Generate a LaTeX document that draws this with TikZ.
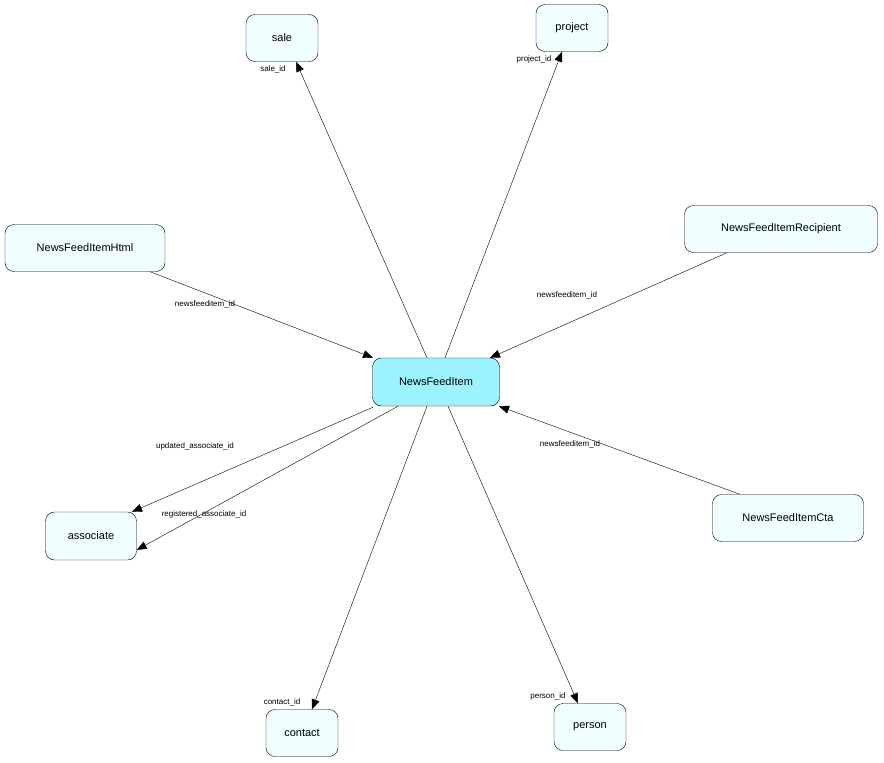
\documentclass[tikz,border=0pt]{standalone}
\usepackage{fontspec}
\setmainfont{Liberation Sans}
\usetikzlibrary{arrows.meta}
\definecolor{boxc}{HTML}{F0FEFF}
\definecolor{mainc}{HTML}{9CF2FF}
\begin{document}
\begin{tikzpicture}[x=1pt,y=-1pt,
  box/.style={draw=black,fill=boxc,rounded corners=9pt,font=\fontsize{11}{13}\selectfont,inner sep=0pt,minimum height=47pt},
  edge/.style={draw=black,-{Triangle[length=10pt,width=8pt]}},
  lab/.style={font=\fontsize{8}{10}\selectfont,inner sep=1pt}]
\useasboundingbox (0,0) rectangle (884,763);
\node[box,minimum width=72pt] (sale) at (282,38) {sale};
\node[box,minimum width=72pt] (project) at (572,28) {project};
\node[box,minimum width=160pt] (html) at (85,248) {NewsFeedItemHtml};
\node[box,minimum width=193pt] (rec) at (781,229) {NewsFeedItemRecipient};
\node[box,minimum width=127pt,minimum height=48pt,fill=mainc] (nfi) at (436,382) {NewsFeedItem};
\node[box,minimum width=91pt,minimum height=48pt] (assoc) at (91,536) {associate};
\node[box,minimum width=151pt] (cta) at (788,518) {NewsFeedItemCta};
\node[box,minimum width=72pt] (contact) at (302,733) {contact};
\node[box,minimum width=72pt] (person) at (590,727) {person};

\draw[edge] ([xshift=-9pt]nfi.north) -- ([xshift=14pt]sale.south);
\draw[edge] ([xshift=9pt]nfi.north) -- ([xshift=-10pt]project.south);
\draw[edge] ([xshift=65pt]html.south) -- ([xshift=-63pt]nfi.north);
\draw[edge] ([xshift=-54pt]rec.south) -- ([xshift=54pt]nfi.north);
\draw[edge] ([xshift=-48pt]cta.north) -- ([xshift=63pt]nfi.south);
\draw[edge] ([xshift=-63pt,yshift=-1pt]nfi.south) -- ([xshift=41pt]assoc.north);
\draw[edge] ([xshift=-38pt]nfi.south) -- ([yshift=-14pt]assoc.east);
\draw[edge] ([xshift=-9pt]nfi.south) -- ([xshift=10pt]contact.north);
\draw[edge] ([xshift=12pt]nfi.south) -- ([xshift=-12pt]person.north);

\node[lab] (l1) at (273,69) {sale\_id};
\node[lab] (l2) at (534,59) {project\_id};
\node[lab] (l3) at (205,304) {newsfeeditem\_id};
\node[lab] (l4) at (567,295) {newsfeeditem\_id};
\node[lab] (l5) at (570,444) {newsfeeditem\_id};
\node[lab] (l6) at (195,446) {updated\_associate\_id};
\node[lab] (l7) at (204,514) {registered\_associate\_id};
\node[lab] (l8) at (282,702) {contact\_id};
\node[lab] (l9) at (548,696) {person\_id};
\end{tikzpicture}
\end{document}
